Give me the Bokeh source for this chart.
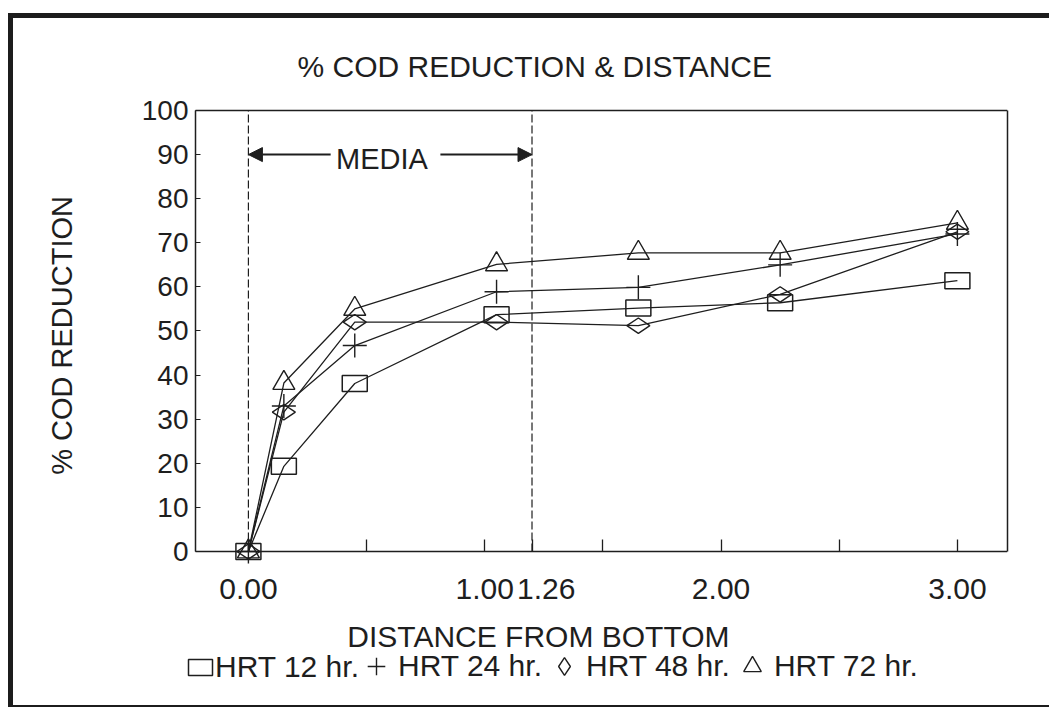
import math
from bokeh.plotting import figure
from bokeh.models import (Range1d, FixedTicker, Arrow, NormalHead, Label,
                          Legend, LegendItem, LinearAxis)
from bokeh.embed import file_html
from bokeh.resources import INLINE

# ---------------- data ----------------
distance = [0.0, 0.15, 0.45, 1.05, 1.65, 2.25, 3.0]
hrt12 = [0.0, 19.3, 38.1, 53.7, 55.2, 56.4, 61.4]
hrt24 = [0.0, 33.0, 46.7, 58.9, 59.9, 65.0, 72.0]
hrt48 = [0.0, 31.6, 52.0, 52.0, 51.2, 58.3, 72.5]
hrt72 = [0.0, 38.2, 55.0, 65.1, 67.7, 67.7, 74.5]
series_labels = ["HRT 12 hr.", "HRT 24 hr.", "HRT 48 hr.", "HRT 72 hr."]

x_tick_values = [0, 1, 1.26, 2, 3]
x_tick_labels = ["0.00", "1.00", "1.26", "2.00", "3.00"]
x_tick_marks = [0.0, 0.5, 1.0, 1.2, 1.5, 2.0, 2.5, 3.0]
y_tick_values = [0, 10, 20, 30, 40, 50, 60, 70, 80, 90, 100]

media_start = 0.0
media_end = 1.2
media_level = 90
media_text = "MEDIA"

title_text = "% COD REDUCTION & DISTANCE"
x_label = "DISTANCE FROM BOTTOM"
y_label = "% COD REDUCTION"

# ---------------- layout / style ----------------
INK = "#1e1e1e"
FONT = "Liberation Sans"
y_lo, y_hi = y_tick_values[0], y_tick_values[-1]
box_x = (-0.224, 3.212)          # extent of the drawn chart box on the x scale

# the frame covers the area around the box so that texts
# (axis titles, tick labels, legend) can sit outside the box
p = figure(width=1041, height=694, output_backend="svg", toolbar_location=None,
           x_range=Range1d(-0.994, box_x[1]), y_range=Range1d(-34.7, 103.4),
           min_border_left=0, min_border_right=47, min_border_top=77,
           min_border_bottom=8,
           background_fill_color="white", border_fill_color="white",
           outline_line_color=None,
           styles={"margin-left": "8px", "margin-top": "13px",
                   "border-top": "5px solid #1c1c1c",
                   "border-left": "5px solid #1c1c1c",
                   "border-bottom": "2px solid #1c1c1c"})
p.grid.visible = False

# title
p.title.text = title_text
p.title.align = "left"
p.title.offset = 284
p.title.text_font = FONT
p.title.text_font_size = "30px"
p.title.text_font_style = "normal"
p.title.text_color = INK
p.title.standoff = 26

# x axis, fixed at y = 0
xa = p.xaxis[0]
xa.fixed_location = y_lo
xa.bounds = box_x
xa.ticker = FixedTicker(ticks=x_tick_values, minor_ticks=x_tick_marks)
xa.major_label_overrides = {(int(v) if float(v).is_integer() else v): lab
                            for v, lab in zip(x_tick_values, x_tick_labels)}
xa.major_tick_line_color = None
xa.minor_tick_line_color = INK
xa.minor_tick_in = 12
xa.minor_tick_out = 0
xa.minor_tick_line_width = 1.3
xa.axis_line_color = INK
xa.axis_line_width = 1.5
xa.major_label_text_font = FONT
xa.major_label_text_font_size = "30px"
xa.major_label_text_color = INK
xa.major_label_standoff = 22

# y axis, fixed at the left edge of the box
ya = p.yaxis[0]
ya.fixed_location = box_x[0]
ya.bounds = (y_lo, y_hi)
ya.ticker = FixedTicker(ticks=y_tick_values)
ya.major_tick_in = 5
ya.major_tick_out = 0
ya.major_tick_line_color = INK
ya.minor_tick_line_color = None
ya.axis_line_color = INK
ya.axis_line_width = 1.5
ya.major_label_text_font = FONT
ya.major_label_text_font_size = "28px"
ya.major_label_text_color = INK
ya.major_label_standoff = 7

# right edge and top edge of the box
right_edge = LinearAxis(bounds=(y_lo, y_hi), ticker=FixedTicker(ticks=[]),
                        axis_line_color=INK, axis_line_width=1.5,
                        major_tick_line_color=None, minor_tick_line_color=None,
                        major_label_text_font_size="0px")
p.add_layout(right_edge, "right")
top_edge = LinearAxis(bounds=box_x, fixed_location=y_hi,
                      ticker=FixedTicker(ticks=[]),
                      axis_line_color=INK, axis_line_width=1.5,
                      major_tick_line_color=None, minor_tick_line_color=None,
                      major_label_text_font_size="0px")
p.add_layout(top_edge, "above")

# axis titles
p.add_layout(Label(x=1.227, y=-19.3, text=x_label, text_align="center",
                   text_baseline="middle", text_font=FONT,
                   text_font_size="30px", text_color=INK))
p.add_layout(Label(x=-0.787, y=(y_lo + y_hi) / 2 - 1, text=y_label,
                   angle=math.pi / 2, text_align="center",
                   text_baseline="middle", text_font=FONT,
                   text_font_size="29px", text_color=INK))

# media markers
p.segment(x0=[media_start, media_end], y0=[y_lo, y_lo],
          x1=[media_start, media_end], y1=[y_hi, y_hi],
          line_color=INK, line_width=1.2, line_dash="8 3")

span_len = media_end - media_start
p.add_layout(Arrow(end=NormalHead(size=14, fill_color=INK, line_color=INK),
                   x_start=media_start + 0.29 * span_len, y_start=media_level,
                   x_end=media_start, y_end=media_level,
                   line_color=INK, line_width=2))
p.add_layout(Arrow(end=NormalHead(size=14, fill_color=INK, line_color=INK),
                   x_start=media_start + 0.677 * span_len, y_start=media_level,
                   x_end=media_end, y_end=media_level,
                   line_color=INK, line_width=2))
p.add_layout(Label(x=media_start + 0.471 * span_len, y=media_level - 1,
                   text=media_text, text_align="center", text_baseline="middle",
                   text_font=FONT, text_font_size="29px", text_color=INK))

# series
for ys in (hrt12, hrt24, hrt48, hrt72):
    p.line(distance, ys, line_color=INK, line_width=1.3)

r12 = p.rect(distance, hrt12, width=25, height=16, width_units="screen",
             height_units="screen", fill_color=None, line_color=INK, line_width=1.5)
r24 = p.scatter(distance, hrt24, marker="cross", size=24, line_color=INK,
                line_width=1.4)
r48 = p.scatter(distance, hrt48, marker="diamond", size=23, angle=math.pi / 2,
                fill_color=None, line_color=INK, line_width=1.4)
r72 = p.scatter(distance, hrt72, marker="triangle", size=22, fill_color=None,
                line_color=INK, line_width=1.4)

common = dict(orientation="horizontal", padding=0, margin=0,
              border_line_color=None, background_fill_alpha=0,
              label_text_font=FONT, label_text_font_size="30px",
              label_text_color=INK)
leg_a = Legend(items=[LegendItem(label=series_labels[0], renderers=[r12])],
               location=(172, 20), glyph_width=30, glyph_height=20,
               label_standoff=0, spacing=0, **common)
leg_b = Legend(items=[LegendItem(label=series_labels[1], renderers=[r24]),
                      LegendItem(label=series_labels[2], renderers=[r48]),
                      LegendItem(label=series_labels[3], renderers=[r72])],
               location=(341, 16), glyph_width=44, glyph_height=44,
               label_standoff=-6, spacing=-10, **common)
p.add_layout(leg_a, "center")
p.add_layout(leg_b, "center")

open("out.html", "w").write(file_html(p, INLINE))
